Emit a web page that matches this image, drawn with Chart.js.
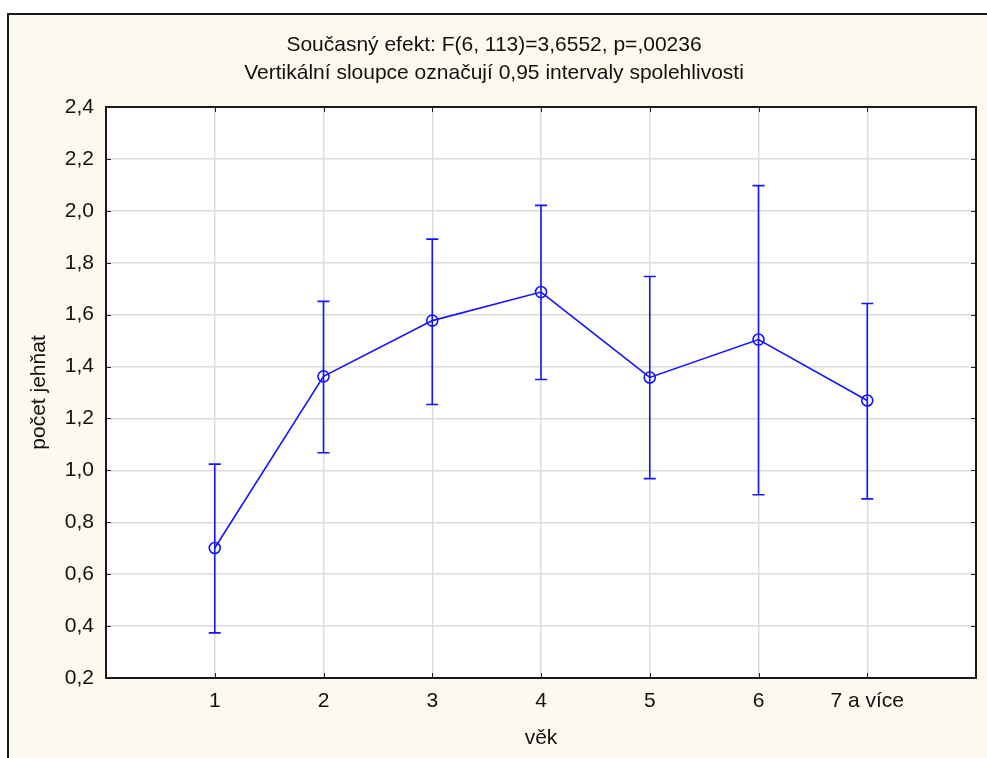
<!DOCTYPE html>
<html>
<head>
<meta charset="utf-8">
<script src="https://cdn.jsdelivr.net/npm/chart.js@4.4.1/dist/chart.umd.min.js"></script>
<style>
  body { margin: 0; background: #fff; }
  #frame {
    position: absolute; left: 7px; top: 13px;
    width: 980px; height: 745px;
    border-left: 2px solid #1a1a1a; border-top: 2px solid #1a1a1a;
    background: #fdf9ee;
  }
</style>
</head>
<body>
<div id="frame"><canvas id="chart" width="978" height="743"></canvas></div>
<script>
const categories = ["1", "2", "3", "4", "5", "6", "7 a více"];
const means = [0.701, 1.362, 1.577, 1.687, 1.358, 1.504, 1.269];
const lower = [0.374, 1.068, 1.254, 1.350, 0.968, 0.906, 0.890];
const upper = [1.024, 1.651, 1.891, 2.021, 1.747, 2.097, 1.643];
const yTicks = [0.2, 0.4, 0.6, 0.8, 1.0, 1.2, 1.4, 1.6, 1.8, 2.0, 2.2, 2.4];

const blue = "#1414ff";
const fontFamily = "'Liberation Sans', Arial, sans-serif";

// error bars + frame + inward ticks
const errorBars = {
    id: "errorBars",
    afterDatasetsDraw(chart) {
        const ctx = chart.ctx;
        const xs = chart.scales.x, ys = chart.scales.y;
        ctx.save();
        ctx.strokeStyle = blue;
        ctx.lineWidth = 1.6;
        categories.forEach((c, i) => {
            const x = xs.getPixelForValue(i + 1);
            const yl = ys.getPixelForValue(lower[i]);
            const yu = ys.getPixelForValue(upper[i]);
            ctx.beginPath();
            ctx.moveTo(x, yl); ctx.lineTo(x, yu);
            ctx.moveTo(x - 6, yl); ctx.lineTo(x + 6, yl);
            ctx.moveTo(x - 6, yu); ctx.lineTo(x + 6, yu);
            ctx.stroke();
        });
        ctx.restore();
    },
    afterDraw(chart) {
        const ctx = chart.ctx;
        const a = chart.chartArea;
        const xs = chart.scales.x, ys = chart.scales.y;
        ctx.save();
        ctx.strokeStyle = "#222";
        ctx.lineWidth = 1;
        ctx.beginPath();
        yTicks.forEach(v => {
            const y = Math.round(ys.getPixelForValue(v)) + 0.5;
            ctx.moveTo(a.left, y); ctx.lineTo(a.left + 5, y);
            ctx.moveTo(a.right, y); ctx.lineTo(a.right - 5, y);
        });
        categories.forEach((c, i) => {
            const x = Math.round(xs.getPixelForValue(i + 1)) + 0.5;
            ctx.moveTo(x, a.bottom); ctx.lineTo(x, a.bottom - 5);
            ctx.moveTo(x, a.top); ctx.lineTo(x, a.top + 5);
        });
        ctx.stroke();
        ctx.lineWidth = 2;
        ctx.strokeStyle = "#1a1a1a";
        ctx.strokeRect(a.left, a.top, a.right - a.left, a.bottom - a.top);
        ctx.restore();
    }
};

const plotBg = {
    id: "plotBg",
    beforeDraw(chart) {
        const a = chart.chartArea;
        chart.ctx.save();
        chart.ctx.fillStyle = "#fff";
        chart.ctx.fillRect(a.left, a.top, a.right - a.left, a.bottom - a.top);
        chart.ctx.restore();
    }
};

new Chart(document.getElementById("chart"), {
    type: "line",
    data: {
        datasets: [{
            data: means.map((m, i) => ({ x: i + 1, y: m })),
            borderColor: blue,
            borderWidth: 1.6,
            pointStyle: "circle",
            pointRadius: 5.5,
            pointBorderWidth: 1.6,
            pointBorderColor: blue,
            pointBackgroundColor: "rgba(0,0,0,0)",
            tension: 0
        }]
    },
    options: {
        responsive: false,
        animation: false,
        layout: { padding: { left: 0, right: 8, top: 0, bottom: 0 } },
        plugins: {
            legend: { display: false },
            tooltip: { enabled: false },
            title: {
                display: true,
                text: ["Současný efekt: F(6, 113)=3,6552, p=,00236",
                       "Vertikální sloupce označují 0,95 intervaly spolehlivosti"],
                color: "#111",
                font: { family: fontFamily, size: 21, weight: "normal", lineHeight: "28px" },
                padding: { top: 16, bottom: 20 }
            }
        },
        scales: {
            x: {
                type: "linear",
                min: 0,
                max: 8,
                afterFit(scale) { scale.height = 80; },
                ticks: {
                    stepSize: 1,
                    autoSkip: false,
                    maxRotation: 0,
                    padding: 11,
                    color: "#111",
                    font: { family: fontFamily, size: 21 },
                    callback: v => (v >= 1 && v <= categories.length) ? categories[v - 1] : ""
                },
                grid: {
                    drawTicks: false,
                    color: ctx => (ctx.tick && ctx.tick.value >= 1 && ctx.tick.value <= categories.length) ? "#dcdcdc" : "rgba(0,0,0,0)",
                    lineWidth: 1.5
                },
                border: { display: false },
                title: {
                    display: true,
                    text: "věk",
                    color: "#111",
                    font: { family: fontFamily, size: 21, lineHeight: 1.2 },
                    padding: { top: 0, bottom: 7 }
                }
            },
            y: {
                min: 0.2,
                max: 2.4,
                afterFit(scale) { scale.width = 97; },
                afterBuildTicks(scale) { scale.ticks = yTicks.map(v => ({ value: v })); },
                ticks: {
                    padding: 12,
                    color: "#111",
                    font: { family: fontFamily, size: 21 },
                    callback: v => v.toFixed(1).replace(".", ",")
                },
                grid: { drawTicks: false, color: "#dcdcdc", lineWidth: 1.5 },
                border: { display: false },
                title: {
                    display: true,
                    text: "počet jehňat",
                    color: "#111",
                    font: { family: fontFamily, size: 21, lineHeight: 1.2 },
                    padding: { top: 18, bottom: 0 }
                }
            }
        }
    },
    plugins: [plotBg, errorBars]
});
</script>
</body>
</html>
